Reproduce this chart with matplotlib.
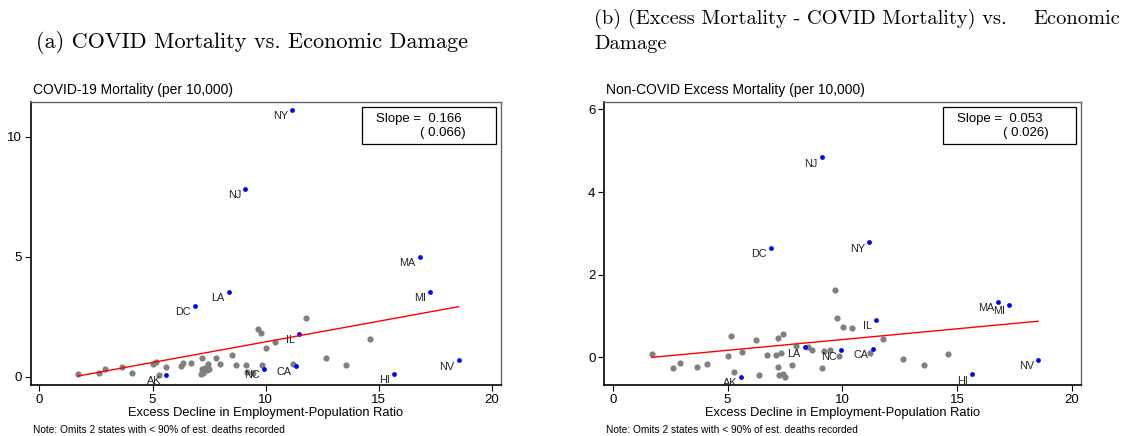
import numpy as np
import matplotlib
matplotlib.use("Agg")
import matplotlib.pyplot as plt
from matplotlib.patches import Rectangle

plt.rcParams['font.family'] = ['Liberation Sans', 'DejaVu Sans']

# gray states (unlabelled)
x_gray = [1.70, 2.64, 2.92, 3.65, 4.11, 5.00, 5.15, 5.30, 5.61, 6.26, 6.35, 6.70,
          7.13, 7.20, 7.20, 7.23, 7.32, 7.43, 7.42, 7.50, 7.80, 8.00, 8.51, 8.68,
          9.11, 9.19, 9.45, 9.68, 9.79, 9.85, 10.03, 10.42, 11.19, 11.78, 12.65,
          13.55, 14.60]
covid_gray = [0.11, 0.17, 0.32, 0.40, 0.17, 0.54, 0.61, 0.08, 0.40, 0.45, 0.55, 0.57,
              0.11, 0.79, 0.30, 0.14, 0.35, 0.53, 0.28, 0.31, 0.77, 0.54, 0.92, 0.50,
              0.49, 0.20, 0.15, 1.97, 1.83, 0.49, 1.20, 1.43, 0.54, 2.43, 0.78,
              0.50, 1.56]
noncovid_gray = [0.09, -0.26, -0.13, -0.24, -0.17, 0.02, 0.52, -0.35, 0.12, 0.42, -0.44, 0.05,
                 0.05, 0.47, -0.23, -0.44, 0.10, 0.56, -0.40, -0.48, -0.19, 0.27, 0.24, 0.17,
                 -0.26, 0.15, 0.17, 1.63, 0.96, 0.04, 0.73, 0.71, 0.10, 0.44, -0.03,
                 -0.19, 0.07]

# labelled states
states = ['NY', 'NJ', 'MA', 'MI', 'NV', 'HI', 'IL', 'CA', 'NC', 'LA', 'DC', 'AK']
x_lab = [11.17, 9.10, 16.80, 17.26, 18.53, 15.66, 11.48, 11.33, 9.94, 8.36, 6.88, 5.60]
covid_lab = [11.13, 7.83, 5.00, 3.52, 0.68, 0.10, 1.78, 0.46, 0.33, 3.54, 2.96, 0.06]
noncovid_lab = [2.78, 4.84, 1.35, 1.27, -0.07, -0.41, 0.91, 0.21, 0.17, 0.24, 2.65, -0.48]

# fitted lines (intercept, slope as drawn) and reported coefficients
fit_a = [-0.27, -0.09]
fit_b = [0.172, 0.052]
slopes = [0.166, 0.053]
ses = [0.066, 0.026]

subtitles = ['COVID-19 Mortality (per 10,000)', 'Non-COVID Excess Mortality (per 10,000)']
ylims = [(-0.35, 11.45), (-0.67, 6.18)]
yticks = [[0, 5, 10], [0, 2, 4, 6]]

fig = plt.figure(figsize=(11.23, 4.36), dpi=100)
W, H = 1123, 436

boxes = [(31, 501), (604.3, 1081)]
ys_list = [(covid_gray, covid_lab), (noncovid_gray, noncovid_lab)]

for i in range(2):
    x0, x1 = boxes[i]
    ax = fig.add_axes([x0 / W, 1 - 385 / H, (x1 - x0) / W, (385 - 102) / H])
    yg, yl = ys_list[i]
    ax.scatter(x_gray, yg, s=20, color='#808080', zorder=2, linewidths=0)
    ax.scatter(x_lab, yl, s=12, color='#0000ff', zorder=3, linewidths=0)
    for s, xx, yy in zip(states, x_lab, yl):
        ax.annotate(s, (xx, yy), xytext=(-3, -4.5), textcoords='offset points',
                    ha='right', va='center', fontsize=7.8, color='#222222')
    allx = np.array(x_gray + x_lab)
    xl = np.array([allx.min(), allx.max()])
    ax.plot(xl, fit_a[i] + fit_b[i] * xl, color='red', lw=1.0, zorder=4)

    ax.set_xlim(-0.37, 20.4)
    ax.set_ylim(*ylims[i])
    ax.set_xticks([0, 5, 10, 15, 20])
    ax.set_yticks(yticks[i])
    ax.tick_params(direction='out', length=4.3, width=0.8, labelsize=9.5, pad=2, colors='black')
    for side in ['left', 'bottom']:
        ax.spines[side].set_color('black')
        ax.spines[side].set_linewidth(1.2)
    for side in ['top', 'right']:
        ax.spines[side].set_color('#666666')
        ax.spines[side].set_linewidth(1.0)

    ax.set_xlabel('Excess Decline in Employment-Population Ratio', fontsize=9.3, labelpad=1)

    # slope box
    bx0 = 0.704 if i == 0 else 0.711
    ax.add_patch(Rectangle((bx0, 0.853), 0.99 - bx0, 0.1305, transform=ax.transAxes,
                           fill=False, edgecolor='black', lw=0.9, zorder=5))
    ax.text(bx0 + 0.029, 0.94, 'Slope =  %.3f' % slopes[i], transform=ax.transAxes,
            fontsize=9.5, ha='left', va='center')
    ax.text(bx0 + 0.221, 0.889, '( %.3f)' % ses[i], transform=ax.transAxes,
            fontsize=9.5, ha='right', va='center')

    fig.text((x0 + 2) / W, 1 - 90 / H, subtitles[i], fontsize=10, ha='left', va='center')
    fig.text((x0 + 2) / W, 1 - 430 / H, 'Note: Omits 2 states with < 90% of est. deaths recorded',
             fontsize=7.3, ha='left', va='center')

fig.text(36 / W, 1 - 42 / H, '(a) COVID Mortality vs. Economic Damage', family='cmr10',
         fontsize=16, ha='left', va='center')
# justified two-line caption for panel (b)
fig.text(594 / W, 1 - 19 / H, '(b) (Excess Mortality - COVID Mortality) vs.',
         family='cmr10', fontsize=14.7, ha='left', va='center')
fig.text(1120 / W, 1 - 19 / H, 'Economic',
         family='cmr10', fontsize=14.7, ha='right', va='center')
fig.text(594 / W, 1 - 44 / H, 'Damage', family='cmr10', fontsize=14.7, ha='left', va='center')

fig.savefig('out.png', dpi=100)
